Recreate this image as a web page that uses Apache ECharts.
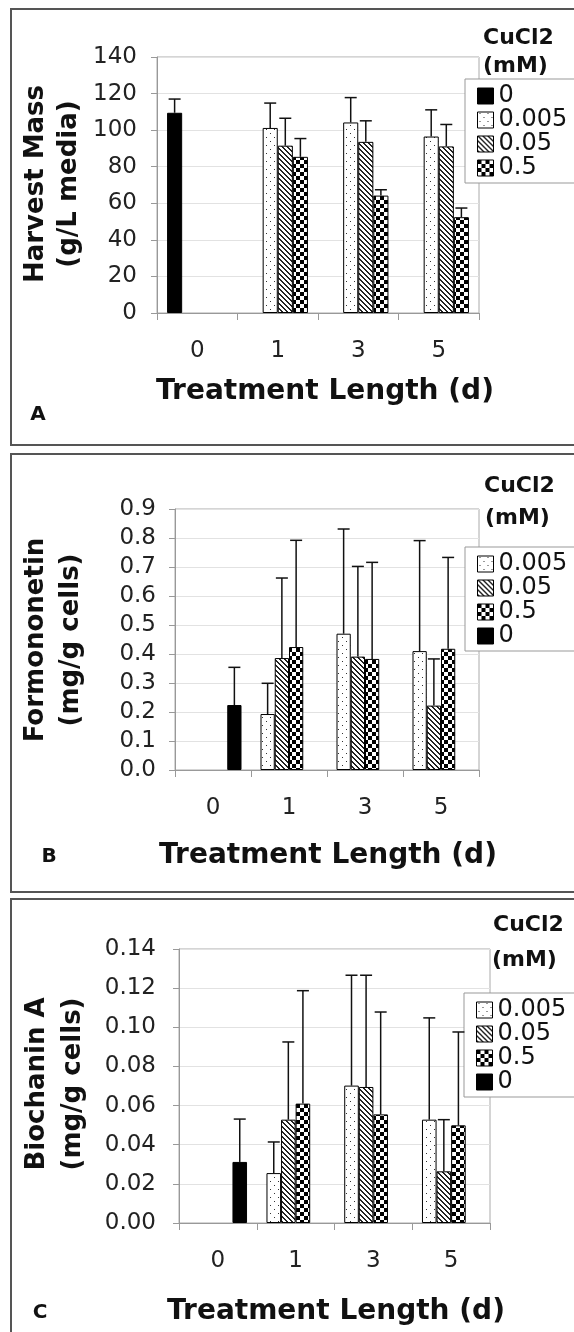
<!DOCTYPE html>
<html><head><meta charset="utf-8">
<script src="https://cdn.jsdelivr.net/npm/echarts@6/dist/echarts.min.js"></script>
<style>html,body{margin:0;padding:0;background:#fff}#c{width:574px;height:1332px}</style>
</head><body><div id="c"></div>
<script>
// ---------- data ----------
const categories = ['0', '1', '3', '5'];
const concNames = ['0', '0.005', '0.05', '0.5'];

// Panel A: Harvest Mass (g/L media), series order 0, 0.005, 0.05, 0.5
const massC0 = [109.5, 0, 0, 0];
const massC0Err = [7.5, 0, 0, 0];
const massC005 = [0, 101.2, 104.2, 96.5];
const massC005Err = [0, 13.6, 13.6, 14.6];
const massC05 = [0, 91.5, 93.6, 91.1];
const massC05Err = [0, 15, 11.5, 12];
const massC5 = [0, 85.4, 64.2, 52.4];
const massC5Err = [0, 10, 3.2, 5];
const massTicks = [0, 140, 20];

// Panel B: Formononetin (mg/g cells), series order 0.005, 0.05, 0.5, 0
const formC005 = [0, 0.193, 0.470, 0.410];
const formC005Err = [0, 0.106, 0.361, 0.381];
const formC05 = [0, 0.386, 0.391, 0.222];
const formC05Err = [0, 0.276, 0.311, 0.161];
const formC5 = [0, 0.424, 0.383, 0.418];
const formC5Err = [0, 0.368, 0.333, 0.315];
const formC0 = [0.224, 0, 0, 0];
const formC0Err = [0.130, 0, 0, 0];
const formTicks = [0, 0.9, 0.1];

// Panel C: Biochanin A (mg/g cells), series order 0.005, 0.05, 0.5, 0
const bioC005 = [0, 0.0255, 0.0702, 0.0528];
const bioC005Err = [0, 0.0159, 0.0564, 0.0520];
const bioC05 = [0, 0.0528, 0.0695, 0.0264];
const bioC05Err = [0, 0.0397, 0.0571, 0.0264];
const bioC5 = [0, 0.0610, 0.0555, 0.0499];
const bioC5Err = [0, 0.0577, 0.0523, 0.0477];
const bioC0 = [0.0312, 0, 0, 0];
const bioC0Err = [0.0219, 0, 0, 0];
const bioTicks = [0, 0.14, 0.02];

// ---------- patterns ----------
function makePattern(kind) {
  const c = document.createElement('canvas');
  const g = c.getContext('2d');
  if (kind === 'solid') return '#000';
  if (kind === 'dots') {
    c.width = 8; c.height = 8;
    g.fillStyle = '#fff'; g.fillRect(0, 0, 8, 8);
    g.fillStyle = '#333';
    g.fillRect(2, 1, 1, 1); g.fillRect(6, 5, 1, 1);
  } else if (kind === 'diag') {
    c.width = 5; c.height = 5;
    g.fillStyle = '#fff'; g.fillRect(0, 0, 5, 5);
    g.fillStyle = '#222';
    for (let y = 0; y < 5; y++) for (let x = 0; x < 5; x++) {
      if (((x - y) % 5 + 5) % 5 < 2) g.fillRect(x, y, 1, 1);
    }
  } else if (kind === 'check') {
    c.width = 8; c.height = 8;
    g.fillStyle = '#fff'; g.fillRect(0, 0, 8, 8);
    g.fillStyle = '#000';
    g.fillRect(0, 0, 4, 4); g.fillRect(4, 4, 4, 4);
  }
  return { image: c, repeat: 'repeat' };
}
const fills = {
  '0': makePattern('solid'),
  '0.005': makePattern('dots'),
  '0.05': makePattern('diag'),
  '0.5': makePattern('check')
};

const FONT = 'DejaVu Sans';
const GAP = 0.25;

function barSeries(name, data, gi) {
  return {
    type: 'bar', name: name, xAxisIndex: gi, yAxisIndex: gi,
    data: data.map(v => v === 0 ? { value: 0, itemStyle: { borderWidth: 0 } } : v),
    barGap: '0%', barCategoryGap: (GAP * 100) + '%',
    itemStyle: { color: fills[name], borderColor: '#000', borderWidth: 1 },
    emphasis: { disabled: true }, animation: false, z: 2
  };
}
function errSeries(vals, errs, gi, pos, n) {
  return {
    type: 'custom', xAxisIndex: gi, yAxisIndex: gi, silent: true, z: 5, animation: false,
    data: vals.map((v, i) => [i, v, v + errs[i], errs[i]]),
    renderItem: function (params, api) {
      if (!(api.value(3) > 0)) return;
      const cat = api.value(0);
      const p0 = api.coord([cat, api.value(1)]);
      const p1 = api.coord([cat, api.value(2)]);
      const bw = api.size([1, 0])[0] * (1 - GAP) / n;
      const x = p0[0] + (pos - (n - 1) / 2) * bw;
      const cap = 12;
      const st = { stroke: '#111', lineWidth: 1.5 };
      return {
        type: 'group', children: [
          { type: 'line', shape: { x1: x, y1: p0[1], x2: x, y2: p1[1] }, style: st },
          { type: 'line', shape: { x1: x - cap / 2, y1: p1[1], x2: x + cap / 2, y2: p1[1] }, style: st }
        ]
      };
    }
  };
}

const grids = [
  { left: 157, top: 57, width: 322, height: 256 },
  { left: 175, top: 509, width: 304, height: 261 },
  { left: 179, top: 949, width: 311, height: 274 }
].map(g => Object.assign(g, { show: true, borderColor: '#aaa', borderWidth: 1, backgroundColor: 'transparent', containLabel: false, outerBoundsMode: 'none' }));

function xAxis(gi) {
  return {
    type: 'category', gridIndex: gi, data: categories,
    axisLine: { lineStyle: { color: '#999', width: 1 } },
    axisTick: { show: true, length: 7, lineStyle: { color: '#999' } },
    axisLabel: { fontSize: 23, color: '#222', fontFamily: FONT, margin: 27 },
    splitLine: { show: false }
  };
}
function yAxis(gi, ticks, dec, margin) {
  return {
    type: 'value', gridIndex: gi, min: ticks[0], max: ticks[1], interval: ticks[2],
    axisLine: { show: true, lineStyle: { color: '#999', width: 1 } },
    axisTick: { show: true, length: 6, lineStyle: { color: '#999' } },
    axisLabel: { fontSize: 23, color: '#222', fontFamily: FONT, margin: margin,
      formatter: v => v.toFixed(dec) },
    splitLine: { show: true, lineStyle: { color: '#e2e2e2', width: 1 } }
  };
}

function legend(gi, names, left, top) {
  return {
    show: true, orient: 'vertical', left: left, top: top,
    data: names, icon: 'rect', itemWidth: 16, itemHeight: 16, itemGap: 0,
    padding: [5, 30, 3, 12], backgroundColor: '#fff', borderColor: '#999', borderWidth: 1,
    borderRadius: 0, selectedMode: false,
    textStyle: { fontSize: 24, color: '#111', fontFamily: FONT },
    itemStyle: { borderColor: '#000', borderWidth: 1 }
  };
}

const series = [
  barSeries('0', massC0, 0), barSeries('0.005', massC005, 0), barSeries('0.05', massC05, 0), barSeries('0.5', massC5, 0),
  errSeries(massC0, massC0Err, 0, 0, 4), errSeries(massC005, massC005Err, 0, 1, 4),
  errSeries(massC05, massC05Err, 0, 2, 4), errSeries(massC5, massC5Err, 0, 3, 4),

  barSeries('0.005', formC005, 1), barSeries('0.05', formC05, 1), barSeries('0.5', formC5, 1), barSeries('0', formC0, 1),
  errSeries(formC005, formC005Err, 1, 0, 4), errSeries(formC05, formC05Err, 1, 1, 4),
  errSeries(formC5, formC5Err, 1, 2, 4), errSeries(formC0, formC0Err, 1, 3, 4),

  barSeries('0.005', bioC005, 2), barSeries('0.05', bioC05, 2), barSeries('0.5', bioC5, 2), barSeries('0', bioC0, 2),
  errSeries(bioC005, bioC005Err, 2, 0, 4), errSeries(bioC05, bioC05Err, 2, 1, 4),
  errSeries(bioC5, bioC5Err, 2, 2, 4), errSeries(bioC0, bioC0Err, 2, 3, 4)
];

function txt(text, x, y, size, opts) {
  opts = opts || {};
  return {
    type: 'text', x: x, y: y, rotation: opts.rot || 0, z: 10,
    style: {
      text: text, fontSize: size, fontWeight: opts.bold === false ? 'normal' : 'bold',
      fontFamily: FONT, fill: '#111', align: opts.align || 'center',
      verticalAlign: 'middle', lineHeight: opts.lh || size
    }
  };
}
function panelBox(y, h) {
  return { type: 'rect', shape: { x: 11, y: y, width: 620, height: h }, style: { fill: null, stroke: '#555', lineWidth: 2 }, z: 0, silent: true };
}

const graphic = [
  panelBox(9, 436), panelBox(454, 438), panelBox(899, 460),
  txt('Harvest Mass\n(g/L media)', 53, 184, 26, { rot: Math.PI / 2, lh: 33 }),
  txt('Formononetin\n(mg/g cells)', 54, 640, 26, { rot: Math.PI / 2, lh: 35 }),
  txt('Biochanin A\n(mg/g cells)', 55, 1084, 26, { rot: Math.PI / 2, lh: 36 }),
  txt('Treatment Length (d)', 325, 392, 28),
  txt('Treatment Length (d)', 328, 856, 28),
  txt('Treatment Length (d)', 336, 1312, 28),
  txt('A', 38, 415, 20),
  txt('B', 49, 857, 20),
  txt('C', 40, 1313, 20),
  txt('CuCl2', 483, 38, 22, { align: 'left' }),
  txt('(mM)', 483, 66, 22, { align: 'left' }),
  txt('CuCl2', 484, 486, 22, { align: 'left' }),
  txt('(mM)', 485, 518, 22, { align: 'left' }),
  txt('CuCl2', 493, 925, 22, { align: 'left' }),
  txt('(mM)', 492, 960, 22, { align: 'left' })
];

const chart = echarts.init(document.getElementById('c'), null, { renderer: 'canvas' });
chart.setOption({
  animation: false,
  backgroundColor: '#fff',
  grid: grids,
  xAxis: [xAxis(0), xAxis(1), xAxis(2)],
  yAxis: [yAxis(0, massTicks, 0, 20), yAxis(1, formTicks, 1, 19), yAxis(2, bioTicks, 2, 23)],
  legend: [
    legend(0, ['0', '0.005', '0.05', '0.5'], 465, 79),
    legend(1, ['0.005', '0.05', '0.5', '0'], 465, 547),
    legend(2, ['0.005', '0.05', '0.5', '0'], 464, 993)
  ],
  tooltip: { show: false },
  series: series,
  graphic: graphic
});
</script>
</body></html>
